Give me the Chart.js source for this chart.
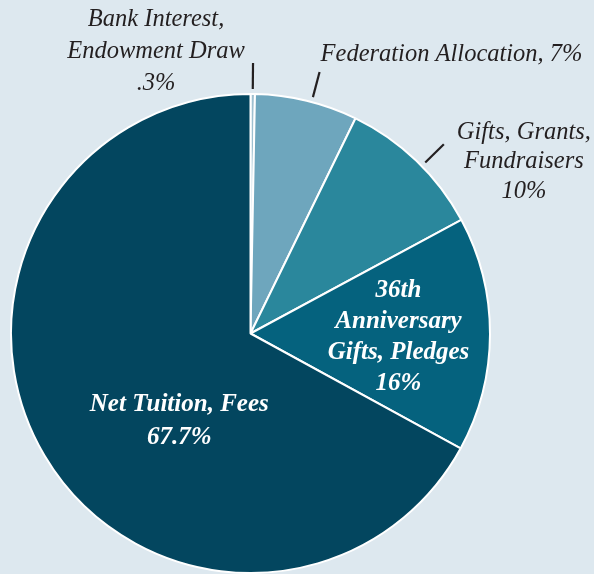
<!DOCTYPE html>
<html>
<head>
<meta charset="utf-8">
<script src="https://cdn.jsdelivr.net/npm/chart.js@4/dist/chart.umd.min.js"></script>
<style>
  html, body { margin: 0; padding: 0; background: #dde8ef; }
  #wrap { width: 594px; height: 574px; position: relative; }
</style>
</head>
<body>
<div id="wrap"><canvas id="pieChart"></canvas></div>
<script>
// chart data
const categories = ['Bank Interest, Endowment Draw', 'Federation Allocation', 'Gifts, Grants, Fundraisers', '36th Anniversary Gifts, Pledges', 'Net Tuition, Fees'];
const values = [0.3, 7, 10, 16, 67.7];
const valueLabels = ['.3%', '7%', '10%', '16%', '67.7%'];
const colors = ['#9fc0d0', '#6ea6bd', '#2a879c', '#05627e', '#03465f'];

const serif = '"Liberation Serif", "DejaVu Serif", serif';

// how each label is written on the picture
const labelLines = [
  ['Bank Interest,', 'Endowment Draw', valueLabels[0]],
  ['Federation Allocation, ' + valueLabels[1]],
  ['Gifts, Grants,', 'Fundraisers', valueLabels[2]],
  ['36th', 'Anniversary', 'Gifts, Pledges', valueLabels[3]],
  ['Net Tuition, Fees', valueLabels[4]]
];
// inside: distance from centre; outside: leader line then text offset from its end
const labelPlace = [
  { out: true, frac: 0.5, dx: -97, dy: -43, gap: 32, align: 'center' },
  { out: true, frac: 0.55, dx: 1, dy: -17, gap: 0, align: 'left' },
  { out: true, frac: 0.55, dx: 80, dy: -12, gap: 29.5, align: 'center' },
  { out: false, dist: 148, dx: 0, dy: -43, gap: 31 },
  { out: false, dist: 120, dx: 32, dy: 10, gap: 33 }
];

const pieLabels = {
  id: 'pieLabels',
  afterDraw(chart) {
    const ctx = chart.ctx;
    const meta = chart.getDatasetMeta(0);
    meta.data.forEach(function (arc, i) {
      const p = arc.getProps(['x', 'y', 'startAngle', 'endAngle', 'outerRadius'], true);
      const pl = labelPlace[i];
      ctx.save();
      ctx.textBaseline = 'middle';
      if (pl.out) {
        const a = p.startAngle + (p.endAngle - p.startAngle) * pl.frac;
        const x1 = p.x + Math.cos(a) * (p.outerRadius + 5);
        const y1 = p.y + Math.sin(a) * (p.outerRadius + 5);
        const x2 = p.x + Math.cos(a) * (p.outerRadius + 31);
        const y2 = p.y + Math.sin(a) * (p.outerRadius + 31);
        ctx.strokeStyle = '#231f20';
        ctx.lineWidth = 2.2;
        ctx.beginPath();
        ctx.moveTo(x1, y1);
        ctx.lineTo(x2, y2);
        ctx.stroke();
        ctx.fillStyle = '#231f20';
        ctx.font = 'italic 24.5px ' + serif;
        ctx.textAlign = pl.align;
        labelLines[i].forEach(function (t, k) {
          ctx.fillText(t, x2 + pl.dx, y2 + pl.dy + k * pl.gap);
        });
      } else {
        const a = (p.startAngle + p.endAngle) / 2;
        const cx = p.x + Math.cos(a) * pl.dist + pl.dx;
        const cy = p.y + Math.sin(a) * pl.dist + pl.dy;
        ctx.fillStyle = '#ffffff';
        ctx.font = 'italic bold 25px ' + serif;
        ctx.textAlign = 'center';
        labelLines[i].forEach(function (t, k) {
          ctx.fillText(t, cx, cy + k * pl.gap);
        });
      }
      ctx.restore();
    });
  }
};

new Chart(document.getElementById('pieChart'), {
  type: 'pie',
  data: {
    labels: categories,
    datasets: [{
      data: values,
      backgroundColor: colors,
      borderColor: '#ffffff',
      borderWidth: 2
    }]
  },
  options: {
    responsive: true,
    maintainAspectRatio: false,
    animation: false,
    layout: { padding: { left: 8, right: 101, top: 93, bottom: 0 } },
    plugins: {
      legend: { display: false },
      tooltip: { enabled: false }
    }
  },
  plugins: [pieLabels]
});
</script>
</body>
</html>
